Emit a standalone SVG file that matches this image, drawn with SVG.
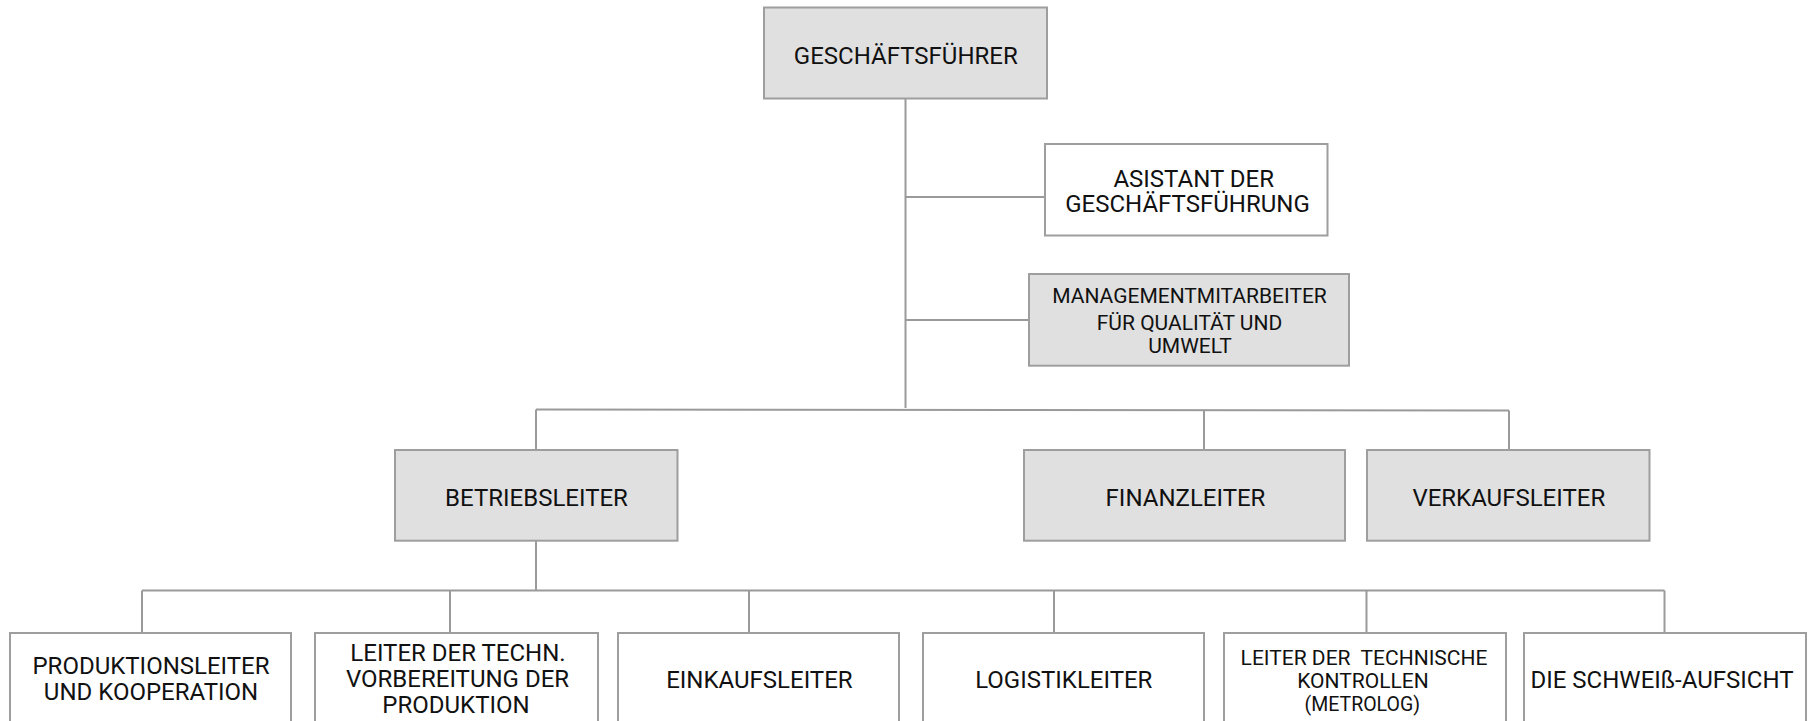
<svg xmlns="http://www.w3.org/2000/svg" width="1808" height="721" viewBox="0 0 1808 721">
<style>
.box{stroke:#9e9e9e;stroke-width:2;}
.g{fill:#e0e0e0;}
.w{fill:#ffffff;}
.t{font-family:Roboto,"Liberation Sans",sans-serif;font-size:24px;fill:#111;text-anchor:middle;white-space:pre;}
.s{font-size:21px;}
.xs{font-size:19.5px;}
.c{stroke:#9a9a9a;stroke-width:2;fill:none;}
</style>
<rect width="1808" height="721" fill="#ffffff"/>
<g id="connectors" class="c">
<path d="M905.5 98V408"/>
<path d="M905.5 197H1045"/>
<path d="M905.5 320H1029"/>
<path d="M536 409.5L1509 410.5"/>
<path d="M536 409.5V450"/>
<path d="M1204 410V450"/>
<path d="M1509 410.5V450"/>
<path d="M536 541V590.5"/>
<path d="M142 590.5H1664.5"/>
<path d="M142 590.5V633"/>
<path d="M450 590.5V633"/>
<path d="M749 590.5V633"/>
<path d="M1054 590.5V633"/>
<path d="M1366.5 590.5V633"/>
<path d="M1664.5 590.5V633"/>
</g>
<g id="n-geschaeftsfuehrer">
<rect class="box g" x="764" y="7.5" width="283" height="91"/>
<text class="t" x="905.8" y="64">GESCHÄFTSFÜHRER</text>
</g>
<g id="n-asistant">
<rect class="box w" x="1045" y="144" width="282.5" height="91.5"/>
<text class="t" x="1193.7" y="186.7">ASISTANT DER</text>
<text class="t" x="1187.5" y="211.7">GESCHÄFTSFÜHRUNG</text>
</g>
<g id="n-management">
<rect class="box g" x="1029" y="274" width="320" height="91.7"/>
<text class="t s" x="1189.5" y="303.3">MANAGEMENTMITARBEITER</text>
<text class="t s" x="1189.5" y="329.5">FÜR QUALITÄT UND</text>
<text class="t s" x="1190" y="353.3">UMWELT</text>
</g>
<g id="n-betriebsleiter">
<rect class="box g" x="395" y="450" width="282.5" height="90.7"/>
<text class="t" x="536.5" y="505.5">BETRIEBSLEITER</text>
</g>
<g id="n-finanzleiter">
<rect class="box g" x="1024" y="450" width="321" height="90.7"/>
<text class="t" x="1185.5" y="505.5">FINANZLEITER</text>
</g>
<g id="n-verkaufsleiter">
<rect class="box g" x="1367" y="450" width="282.5" height="90.7"/>
<text class="t" x="1508.8" y="505.5">VERKAUFSLEITER</text>
</g>
<g id="n-produktionsleiter">
<rect class="box w" x="10" y="633" width="281" height="110"/>
<text class="t" x="151" y="673.5">PRODUKTIONSLEITER</text>
<text class="t" x="151" y="699.5">UND KOOPERATION</text>
</g>
<g id="n-techn-vorbereitung">
<rect class="box w" x="315" y="633" width="283" height="110"/>
<text class="t" x="458" y="660.7">LEITER DER TECHN.</text>
<text class="t" x="457.5" y="686.7">VORBEREITUNG DER</text>
<text class="t" x="456" y="713.3">PRODUKTION</text>
</g>
<g id="n-einkaufsleiter">
<rect class="box w" x="618" y="633" width="281" height="110"/>
<text class="t" x="759.4" y="688.3">EINKAUFSLEITER</text>
</g>
<g id="n-logistikleiter">
<rect class="box w" x="923" y="633" width="281" height="110"/>
<text class="t" x="1063.8" y="688.3">LOGISTIKLEITER</text>
</g>
<g id="n-technische-kontrollen">
<rect class="box w" x="1224" y="633" width="282" height="110"/>
<text class="t s" x="1364" y="665">LEITER DER  TECHNISCHE</text>
<text class="t s" x="1363" y="688.3">KONTROLLEN</text>
<text class="t xs" x="1362.3" y="710.7">(METROLOG)</text>
</g>
<g id="n-schweissaufsicht">
<rect class="box w" x="1524" y="633" width="282" height="110"/>
<text class="t" x="1662" y="688.3">DIE SCHWEIß-AUFSICHT</text>
</g>
</svg>
